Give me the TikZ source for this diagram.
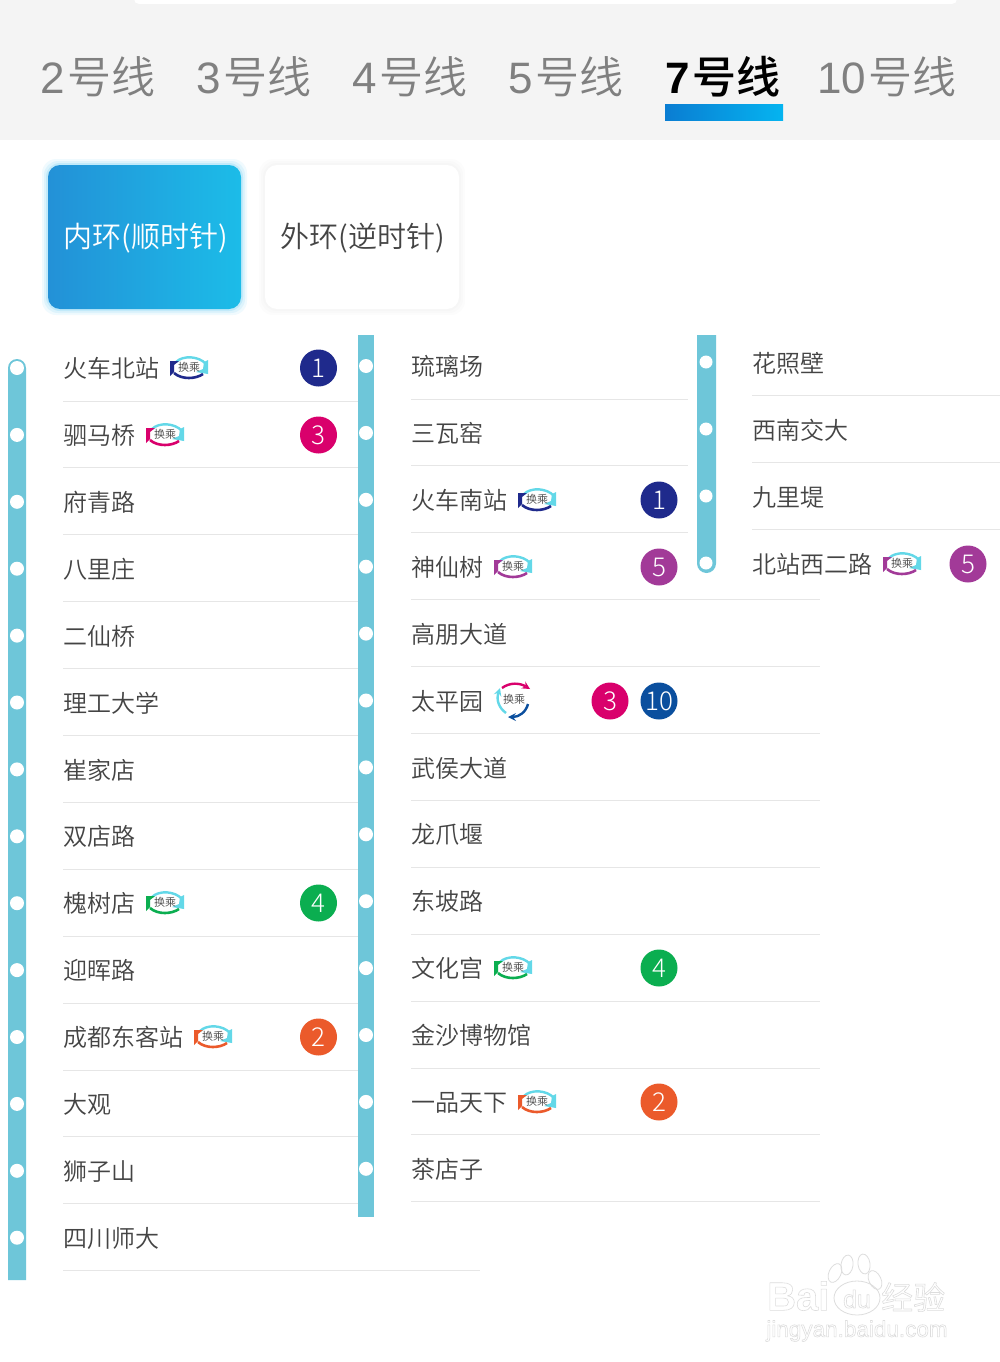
\documentclass[tikz,border=0pt]{standalone}
\usepackage{fontspec}
\setmainfont{Noto Sans CJK SC}[UprightFont=* DemiLight,BoldFont=* Medium]
\newfontfamily\numfont{Liberation Sans}
\newfontfamily\thinfont{Noto Sans CJK SC Light}
\definecolor{railblue}{HTML}{6EC6D9}
\definecolor{headbg}{HTML}{F4F4F4}
\definecolor{sepgray}{HTML}{E6E6E6}
\definecolor{inktext}{HTML}{444444}
\definecolor{tabgray}{HTML}{808080}
\definecolor{lineone}{HTML}{1F2A8C}
\definecolor{linetwo}{HTML}{EB5A2B}
\definecolor{linethree}{HTML}{D9006C}
\definecolor{linefour}{HTML}{0BAE50}
\definecolor{linefive}{HTML}{A23A98}
\definecolor{lineten}{HTML}{0B4F9E}
\definecolor{swirl}{HTML}{63D8E8}
\definecolor{markgray}{HTML}{DDDDDD}
\newcommand{\markline}[1]{\special{pdf:code 1 Tr 0.6 w}#1\special{pdf:code 0 Tr 1 w}}
\tikzset{
	stn/.style={anchor=west,inner sep=0pt,text=inktext,font=\fontsize{24}{24}\selectfont},
	tab/.style={inner sep=0pt,text=tabgray,font=\fontsize{44}{44}\selectfont},
	btn/.style={inner sep=0pt,font=\fontsize{29}{29}\selectfont},
	sep/.style={draw=sepgray,line width=1pt},
	dot/.style={fill=white},
	marktext/.style={inner sep=0pt,text=markgray},
	huantext/.style={inner sep=0pt,text=inktext,font=\fontsize{11}{11}\selectfont},
	linedisc/.style={circle,minimum size=37pt,inner sep=0pt,text=white,fill=#1,font=\thinfont\fontsize{26}{26}\selectfont},
	huan/.pic={
		\draw[swirl,line width=2.4pt] (-13,-6) .. controls (-6,-13) and (10,-12) .. (17,-4);
		\fill[swirl] (19,-8)--(19,6)--(7,4)--(14,1)--(15,-6)--cycle;
		\fill[#1] (-19,-7)--(-10,-7)--(-15,-3)--(-15,4)--(-19,8)--cycle;
		\draw[#1,line width=2.6pt] (-15,5) .. controls (-7,12) and (7,11) .. (14,6);
		\node[huantext] (-word) at (0,-0.5) {换乘};
	},
	huanthree/.pic={
		\draw[linethree,line width=2.4pt,-stealth] (-12,-12) .. controls (-4,-18) and (6,-17) .. (16,-11);
		\draw[lineten,line width=2.4pt,-stealth] (14,4) .. controls (12,12) and (5,17) .. (-6,17);
		\draw[swirl,line width=2.4pt,-stealth] (-8,13) .. controls (-15,8) and (-18,0) .. (-14,-12);
		\node[huantext] (-word) at (0,-1) {换乘};
	}
}
\begin{document}
\begin{tikzpicture}[x=1pt,y=-1pt,line join=round]
	\fill[white] (0,0) rectangle (1000,1362);
	\useasboundingbox (0,0) rectangle (1000,1362);
	\fill[headbg] (0,0) rectangle (1000,140);
	\fill[white,rounded corners=5pt] (134,-10) rectangle (957,4);
	\foreach \tabx/\tabname in {98/2,254/3,410/4,566/5,887/10}{
		\node[tab] (tab\tabname) at (\tabx,77) {{\numfont\tabname}\hspace{3pt}号线};}
	\node[tab,text=black,font=\fontsize{44}{44}\selectfont\bfseries] (tab7) at (723,77) {{\numfont\bfseries 7}\hspace{3pt}号线};
	\shade[left color={rgb,255:red,10;green,125;blue,210},right color={rgb,255:red,5;green,180;blue,240}] (665,105) rectangle (783,121);
	\foreach \gl/\gop in {6/0.06,4/0.08,2/0.12}{
		\fill[cyan,opacity=\gop,rounded corners=14pt] (48-\gl,165-\gl) rectangle (241+\gl,309+\gl);
		\fill[black,opacity=0.012,rounded corners=14pt] (265-\gl,165-\gl) rectangle (459+\gl,309+\gl);}
	\shade[rounded corners=12pt,left color={rgb,255:red,35;green,145;blue,215},right color={rgb,255:red,28;green,188;blue,232}] (48,165) rectangle (241,309);
	\fill[white,rounded corners=12pt] (265,165) rectangle (459,309);
	\node[btn,text=white] (innerring) at (145.5,238) {内环(顺时针)};
	\node[btn,text=inktext] (outerring) at (362.5,238) {外环(逆时针)};
	\fill[railblue] (8,1280)--(8,368) arc (180:360:9)--(26,1280)--cycle;
	\fill[railblue] (358,335) rectangle (374,1217);
	\fill[railblue] (697,335)--(697,563.5) arc (180:0:9.5)--(716,335)--cycle;
	\foreach \stname [count=\i from 0] in {火车北站,驷马桥,府青路,八里庄,二仙桥,理工大学,崔家店,双店路,槐树店,迎晖路,成都东客站,大观,狮子山,四川师大}{
		\node[stn] (westA\i) at (63,{368.5+66.9*\i}) {\stname};
		\fill[dot] (17,{368+66.9*\i}) circle (7);
		\ifnum\i<13
			\draw[sep] (63,{401+66.9*\i})--(358,{401+66.9*\i});
		\else
			\draw[sep] (63,{401+66.9*\i})--(480,{401+66.9*\i});
		\fi}
	\foreach \stname [count=\i from 0] in {琉璃场,三瓦窑,火车南站,神仙树,高朋大道,太平园,武侯大道,龙爪堰,东坡路,文化宫,金沙博物馆,一品天下,茶店子}{
		\node[stn] (westB\i) at (411,{366.5+66.9*\i}) {\stname};
		\fill[dot] (366,{366+66.9*\i}) circle (7);
		\ifnum\i<3
			\draw[sep] (411,{399+66.9*\i})--(688,{399+66.9*\i});
		\else
			\draw[sep] (411,{399+66.9*\i})--(820,{399+66.9*\i});
		\fi}
	\foreach \stname [count=\i from 0] in {花照壁,西南交大,九里堤,北站西二路}{
		\node[stn] (westC\i) at (752,{363.5+66.9*\i}) {\stname};
		\fill[dot] (706,{362+67*\i}) circle (6.5);}
	\foreach \i in {0,1,2}{
		\draw[sep] (752,{395+67*\i})--(1000,{395+67*\i});}
	\pic at (189,368) {huan=lineone};
	\pic at (165,435) {huan=linethree};
	\pic at (165,903) {huan=linefour};
	\pic at (213,1037) {huan=linetwo};
	\pic at (537,500) {huan=lineone};
	\pic at (513,567) {huan=linefive};
	\pic at (514,700) {huanthree};
	\pic at (513,968) {huan=linefour};
	\pic at (537,1102) {huan=linetwo};
	\pic at (902,564) {huan=linefive};
	\node[linedisc=lineone] (discA) at (318.5,368) {1};
	\node[linedisc=linethree] (discB) at (318.5,435) {3};
	\node[linedisc=linefour] (discC) at (318.5,903) {4};
	\node[linedisc=linetwo] (discD) at (318.5,1037) {2};
	\node[linedisc=lineone] (discE) at (659,500) {1};
	\node[linedisc=linefive] (discF) at (659,567) {5};
	\node[linedisc=linethree] (discG) at (610,701) {3};
	\node[linedisc=lineten] (discH) at (659,701) {10};
	\node[linedisc=linefour] (discI) at (659,968) {4};
	\node[linedisc=linetwo] (discJ) at (659,1102) {2};
	\node[linedisc=linefive] (discK) at (968,564) {5};
	\node[marktext,anchor=west,font=\numfont\bfseries\fontsize{40}{40}\selectfont] (markbai) at (767,1296) {\markline{Bai}};
	\foreach \pawx/\pawy/\pawrot in {835/1273/-25,847/1265/-8,864/1264/8,875/1280/25}{
		\draw[markgray,line width=0.8pt,rotate around={\pawrot:(\pawx,\pawy)}] (\pawx,\pawy) ellipse (6 and 10);}
	\draw[markgray,line width=0.8pt] (857,1298) ellipse (23 and 17);
	\node[marktext,font=\numfont\fontsize{25}{25}\selectfont] (markdu) at (857,1299) {\markline{du}};
	\node[marktext,anchor=west,font=\fontsize{32}{32}\selectfont] (markjy) at (881,1297) {\markline{经验}};
	\node[marktext,font=\numfont\fontsize{22.5}{22.5}\selectfont] (marksite) at (857,1331) {\markline{jingyan.baidu.com}};
\end{tikzpicture}
\end{document}
